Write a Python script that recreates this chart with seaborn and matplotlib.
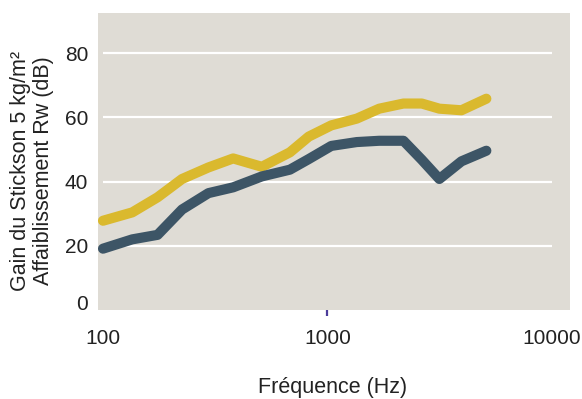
import numpy as np
import pandas as pd
import matplotlib
matplotlib.use('Agg')
import matplotlib.pyplot as plt
import seaborn as sns

# data
freq = [100, 135, 175, 225, 295, 380, 510, 680, 825, 1040, 1350, 1700, 2180, 2630, 3150, 3950, 5100]
gain_yellow = [27.8, 30.4, 35.1, 40.8, 44.4, 47.2, 44.6, 49.1, 54.0, 57.5, 59.6, 62.7, 64.3, 64.3, 62.7, 62.2, 65.8]
gain_blue = [19.1, 22.0, 23.4, 31.3, 36.4, 38.2, 41.6, 43.7, 47.0, 51.1, 52.3, 52.7, 52.7, 46.8, 40.8, 46.3, 49.6]
series = ['avec', 'sans']
colors = ['#DAB92E', '#3D5566']
yticks = [0, 20, 40, 60, 80]
xticks = [100, 1000, 10000]
xticklabels = ['100', '1000', '10000']

df = pd.DataFrame({
    'freq': freq * 2,
    'val': gain_yellow + gain_blue,
    'serie': [series[0]] * len(freq) + [series[1]] * len(freq),
})

sns.set_style('white')
plt.rcParams['font.family'] = ['Liberation Sans', 'DejaVu Sans']

fig = plt.figure(figsize=(5.82, 3.99), dpi=100)
ax = fig.add_axes([98 / 582, 1 - 310 / 399, 472 / 582, 296.7 / 399])
ax.set_facecolor('#DFDCD5')

# white gridlines only between 100 and 10000 Hz
ax.hlines([20, 40, 60, 80], 100, 10000, color='white', lw=1.6, zorder=1)

sns.lineplot(data=df, x='freq', y='val', hue='serie', palette=colors,
             linewidth=7.3, legend=False, ax=ax, zorder=3,
             solid_capstyle='round', solid_joinstyle='round')

ax.set_xscale('log')
ax.set_xlim(95, 12030)
ax.set_ylim(0, 92.4)
ax.set_yticks(yticks)
ax.set_xticks(xticks)
ax.set_xticklabels(xticklabels)
ax.minorticks_off()

for s in ax.spines.values():
    s.set_visible(False)

ax.tick_params(axis='y', length=0, pad=7, labelsize=15, labelcolor='#222222')
ax.tick_params(axis='x', bottom=True, length=4.5, width=1.6, color='#4B3C9A',
               pad=9.5, labelsize=15, labelcolor='#222222')
# only the 1000 tick mark is shown
xt = ax.xaxis.get_major_ticks()
xt[0].tick1line.set_visible(False)
xt[2].tick1line.set_visible(False)
# the "0" label sits a little above its line in the original
ax.get_yticklabels()[0].set_va('baseline')

ax.set_xlabel('Fréquence (Hz)', fontsize=15.5, color='#222222', va='center')
ax.xaxis.set_label_coords(0.498, -0.26)
ax.set_ylabel('Gain du Stickson 5 kg/m²\nAffaiblissement Rw (dB)', fontsize=15.5,
              color='#222222', va='center', ha='center', linespacing=1.08)
ax.yaxis.set_label_coords(-0.14, 0.47)

fig.savefig('out.png', dpi=100)
